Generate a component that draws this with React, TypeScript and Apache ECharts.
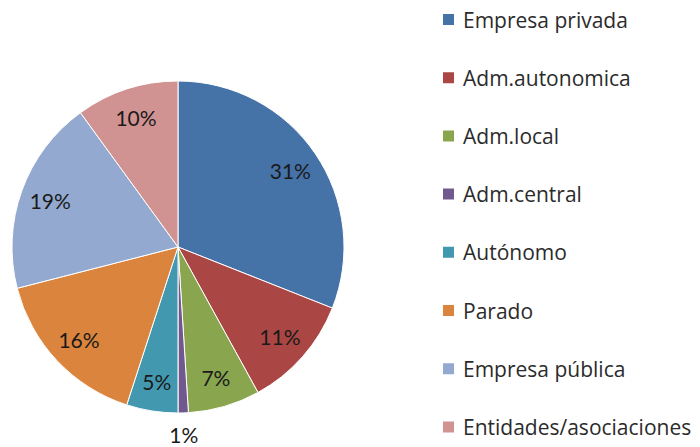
import React, { useEffect, useRef } from "react";
import * as echarts from "echarts";

const categories = [
  "Empresa privada",
  "Adm.autonomica",
  "Adm.local",
  "Adm.central",
  "Autónomo",
  "Parado",
  "Empresa pública",
  "Entidades/asociaciones",
];
const values = [31, 11, 7, 1, 5, 16, 19, 10];
const colors = ["#4572A7", "#AA4643", "#89A54E", "#71588F", "#4198AF", "#DB843D", "#93A9CF", "#D19392"];
const FONT = "Lato";
const LEGEND_FONT = "Open Sans";

export default function App() {
  const ref = useRef<HTMLDivElement>(null);
  useEffect(() => {
    if (!ref.current) return;
    const chart = echarts.init(ref.current, null, { renderer: "svg" });
    const R = 166;
    const center = [178, 247];
    chart.setOption({
      animation: false,
      backgroundColor: "#ffffff",
      color: colors,
      legend: {
        orient: "vertical",
        left: 441,
        top: 9,
        padding: 0,
        itemWidth: 13,
        itemHeight: 13,
        itemGap: 37.2,
        icon: "rect",
        data: categories,
        selectedMode: false,
        textStyle: {
          fontFamily: LEGEND_FONT,
          fontSize: 21,
          lineHeight: 20,
          color: "#2b2b2b",
          padding: [0, 0, 0, 3],
        },
      },
      series: [
        {
          type: "pie",
          center,
          radius: [0, R],
          startAngle: 90,
          clockwise: true,
          silent: true,
          label: { show: false },
          labelLine: { show: false },
          itemStyle: { borderColor: "#ffffff", borderWidth: 1 },
          data: categories.map((name, i) => ({ name, value: values[i] })),
        },
        {
          type: "pie",
          center,
          radius: [R * 0.6, R],
          startAngle: 90,
          clockwise: true,
          silent: true,
          itemStyle: { color: "rgba(0,0,0,0)" },
          label: {
            show: true,
            position: "inside",
            formatter: (p: any) => `${p.value}%`,
            fontFamily: FONT,
            fontSize: 21,
            color: "#1a1a1a",
          },
          labelLine: { show: false },
          labelLayout: (p: any) =>
            p.dataIndex === 3 ? { dx: -p.labelRect.width / 2 - 5, dy: 2 } : {},
          data: categories.map((name, i) =>
            i === 3
              ? {
                  name,
                  value: values[i],
                  label: { position: "outside" },
                  labelLine: { show: false, length: 20, length2: 0 },
                }
              : { name, value: values[i] }
          ),
        },
      ],
    });
    return () => chart.dispose();
  }, []);
  return (
    <div
      ref={ref}
      style={{ position: "fixed", left: 0, top: 0, width: 700, height: 447 }}
    />
  );
}
